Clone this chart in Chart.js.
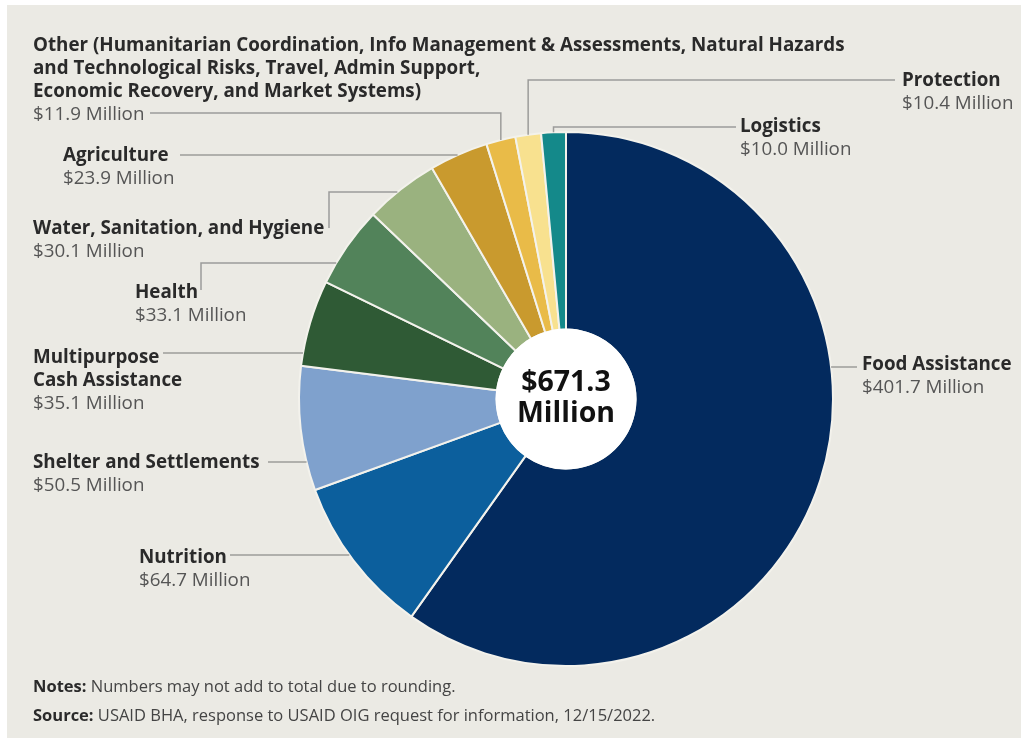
<!DOCTYPE html>
<html>
<head>
<meta charset="utf-8">
<script src="https://cdn.jsdelivr.net/npm/chart.js@4"></script>
<style>
  html, body { margin: 0; padding: 0; background: #ffffff; }
  #panel { position: absolute; left: 7px; top: 5px; width: 1014px; height: 733px; background: #ebeae4; }
  #pie { position: absolute; left: 0; top: 0; }
  .lbl { position: absolute; font-family: "Open Sans", sans-serif; font-size: 18.8px; line-height: 23px; white-space: nowrap; }
  .lbl b { color: #2a2a2a; font-weight: 700; }
  .lbl span { color: #555555; }
  #center { position: absolute; left: 486px; width: 160px; top: 365px; text-align: center;
            font-family: "Open Sans", sans-serif; font-weight: 700; font-size: 28.5px; line-height: 31px; color: #111; }
  .note { position: absolute; left: 33px; font-family: "Open Sans", sans-serif; font-size: 16.5px; line-height: 20px; color: #444; white-space: nowrap; }
  .note b { color: #2a2a2a; }
</style>
</head>
<body>
<div id="panel"></div>
<canvas id="pie" width="1021" height="738"></canvas>

<div class="lbl" style="left:33px; top:33px"><b>Other (Humanitarian Coordination, Info Management &amp; Assessments, Natural Hazards<br>and Technological Risks, Travel, Admin Support,<br>Economic Recovery, and Market Systems)</b><br><span>$11.9 Million</span></div>
<div class="lbl" style="left:63px; top:143px"><b>Agriculture</b><br><span>$23.9 Million</span></div>
<div class="lbl" style="left:33px; top:216px"><b>Water, Sanitation, and Hygiene</b><br><span>$30.1 Million</span></div>
<div class="lbl" style="left:135px; top:280px"><b>Health</b><br><span>$33.1 Million</span></div>
<div class="lbl" style="left:33px; top:345px"><b>Multipurpose<br>Cash Assistance</b><br><span>$35.1 Million</span></div>
<div class="lbl" style="left:33px; top:450px"><b>Shelter and Settlements</b><br><span>$50.5 Million</span></div>
<div class="lbl" style="left:139px; top:545px"><b>Nutrition</b><br><span>$64.7 Million</span></div>
<div class="lbl" style="left:862px; top:352px"><b>Food Assistance</b><br><span>$401.7 Million</span></div>
<div class="lbl" style="left:740px; top:114px"><b>Logistics</b><br><span>$10.0 Million</span></div>
<div class="lbl" style="left:902px; top:68px"><b>Protection</b><br><span>$10.4 Million</span></div>
<div id="center">$671.3<br>Million</div>
<div class="note" style="top:676px"><b>Notes:</b> Numbers may not add to total due to rounding.</div>
<div class="note" style="top:705px"><b>Source:</b> USAID BHA, response to USAID OIG request for information, 12/15/2022.</div>

<script>
// sectors, clockwise from 12 o'clock
const sectors = ["Food Assistance", "Nutrition", "Shelter and Settlements", "Multipurpose Cash Assistance",
  "Health", "Water, Sanitation, and Hygiene", "Agriculture", "Other", "Protection", "Logistics"];
const amounts = [401.7, 64.7, 50.5, 35.1, 33.1, 30.1, 23.9, 11.9, 10.4, 10.0];
const sliceColors = ["#032a5e", "#0c5f9d", "#7fa1cd", "#2f5a35", "#52835a", "#9ab27f",
  "#c99a2e", "#e9bb48", "#f8e18f", "#14898a"];

// leader lines: start points / elbows, last segment goes to the pie edge
// mode "h": horizontal to circle at last y; mode "v": vertical down to slice mid point
const leaders = [
  { i: 7, mode: "v", pts: [[150, 113]] },
  { i: 8, mode: "v", pts: [[895, 80]] },
  { i: 9, mode: "v", pts: [[736, 127]] },
  { i: 6, mode: "h", pts: [[180, 155]] },
  { i: 5, mode: "h", pts: [[329, 228], [329, 192]] },
  { i: 4, mode: "h", pts: [[201, 290], [201, 263]] },
  { i: 3, mode: "h", pts: [[163, 353]] },
  { i: 2, mode: "h", pts: [[268, 462]] },
  { i: 1, mode: "h", pts: [[230, 555]] },
  { i: 0, mode: "h", pts: [[857, 367]], right: true }
];

const leaderPlugin = {
  id: "leaders",
  afterDatasetsDraw(chart) {
    const ctx = chart.ctx;
    const arcs = chart.getDatasetMeta(0).data;
    const a0 = arcs[0];
    const cx = a0.x, cy = a0.y, r = a0.outerRadius;
    // white centre disc
    ctx.save();
    ctx.fillStyle = "#ffffff";
    ctx.beginPath();
    ctx.arc(cx, cy, a0.innerRadius + 1, 0, Math.PI * 2);
    ctx.fill();
    // leader lines
    ctx.strokeStyle = "#9c9c9a";
    ctx.lineWidth = 1.5;
    leaders.forEach(function (l) {
      const arc = arcs[l.i];
      const pts = l.pts.slice();
      const last = pts[pts.length - 1];
      if (l.mode === "v") {
        const mid = (arc.startAngle + arc.endAngle) / 2;
        const ex = cx + r * Math.cos(mid);
        const ey = cy + r * Math.sin(mid);
        pts.push([ex, last[1]]);
        pts.push([ex, ey]);
      } else {
        const dy = last[1] - cy;
        const dx = Math.sqrt(Math.max(r * r - dy * dy, 0));
        pts.push([l.right ? cx + dx : cx - dx, last[1]]);
      }
      ctx.beginPath();
      ctx.moveTo(pts[0][0], pts[0][1]);
      for (let k = 1; k < pts.length; k++) ctx.lineTo(pts[k][0], pts[k][1]);
      ctx.stroke();
    });
    ctx.restore();
  }
};

new Chart(document.getElementById("pie"), {
  type: "doughnut",
  data: {
    labels: sectors,
    datasets: [{
      data: amounts,
      backgroundColor: sliceColors,
      borderColor: "#f3f2ec",
      borderWidth: 2
    }]
  },
  options: {
    responsive: false,
    animation: false,
    cutout: "26%",
    layout: { padding: { left: 298, right: 187, top: 131, bottom: 71 } },
    plugins: {
      legend: { display: false },
      tooltip: { enabled: false }
    }
  },
  plugins: [leaderPlugin]
});
</script>
</body>
</html>
